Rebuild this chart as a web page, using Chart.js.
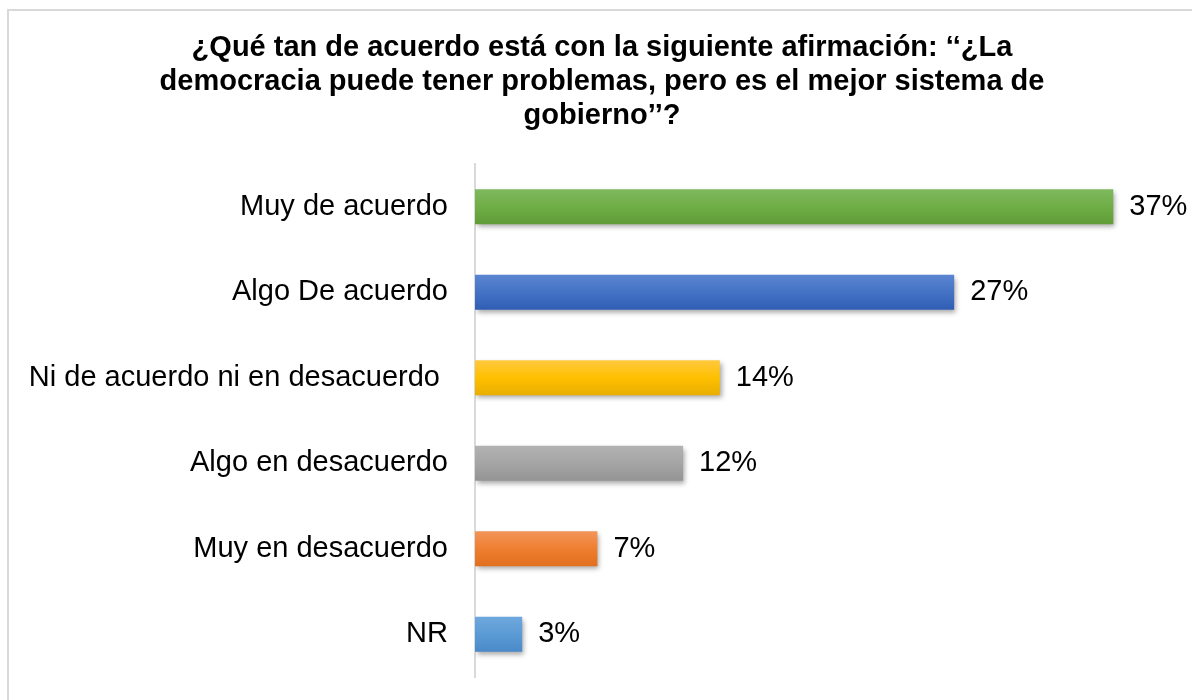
<!DOCTYPE html>
<html>
<head>
<meta charset="utf-8">
<script src="https://cdn.jsdelivr.net/npm/chart.js@4.4.1/dist/chart.umd.min.js"></script>
<style>
  html, body { margin: 0; padding: 0; background: #fff; overflow: hidden; }
  #frame { position: absolute; left: 7px; top: 9px; width: 1200px; height: 700px; border: 2px solid #d9d9d9; }
  #myBarChart { position: absolute; left: 0; top: 0; }
</style>
</head>
<body>
<div id="frame"></div>
<canvas id="myBarChart" width="1192" height="700"></canvas>
<script>
// chart values
var answers = ["Muy de acuerdo", "Algo De acuerdo", "Ni de acuerdo ni en desacuerdo ", "Algo en desacuerdo", "Muy en desacuerdo", "NR"];
var shares = [36.5, 27.4, 14.0, 11.9, 7.0, 2.7];
var titleLines = [
	"¿Qué tan de acuerdo está con la siguiente afirmación: ‘‘¿La",
	"democracia puede tener problemas, pero es el mejor sistema de",
	"gobierno’’?"
];

// bar colours (top / middle / bottom of the gradient)
var topColors = ["#80b95f", "#5c86d2", "#ffc941", "#b3b3b3", "#f3955c", "#6fa8de"];
var midColors = ["#6fae46", "#4472c4", "#ffc000", "#a5a5a5", "#ef7f30", "#5b9bd5"];
var bottomColors = ["#5f9b36", "#2f5db4", "#e8ad00", "#939393", "#e06f1e", "#4a89c8"];

var FONT = '"Liberation Sans", Arial, sans-serif';

function barFill(context) {
	var i = context.dataIndex;
	var chart = context.chart;
	if (i === undefined || !chart.chartArea || !chart.scales.y) return midColors[i || 0];
	var y = chart.scales.y.getPixelForValue(i);
	var g = chart.ctx.createLinearGradient(0, y - 18, 0, y + 18);
	g.addColorStop(0, topColors[i]);
	g.addColorStop(0.5, midColors[i]);
	g.addColorStop(1, bottomColors[i]);
	return g;
}

// soft drop shadow under the bars
var barShadow = {
	id: "barShadow",
	beforeDatasetDraw: function(chart) {
		var c = chart.ctx;
		c.save();
		c.shadowColor = "rgba(0,0,0,0.35)";
		c.shadowBlur = 5;
		c.shadowOffsetX = 2;
		c.shadowOffsetY = 3;
	},
	afterDatasetDraw: function(chart) {
		chart.ctx.restore();
	}
};

// percentage next to each bar
var valueLabels = {
	id: "valueLabels",
	afterDatasetsDraw: function(chart) {
		var c = chart.ctx;
		var bars = chart.getDatasetMeta(0).data;
		c.save();
		c.font = "29px " + FONT;
		c.fillStyle = "#000";
		c.textAlign = "left";
		c.textBaseline = "middle";
		bars.forEach(function(bar, i) {
			c.fillText(Math.round(shares[i]) + "%", bar.x + 16, bar.y);
		});
		c.restore();
	}
};

var ctx = document.getElementById("myBarChart");

var chart = new Chart(ctx, {
	type: "bar",
	data: {
		labels: answers,
		datasets: [{
			data: shares,
			backgroundColor: barFill,
			borderWidth: 0,
			categoryPercentage: 1,
			barPercentage: 0.41
		}]
	},
	options: {
		indexAxis: "y",
		responsive: false,
		animation: false,
		devicePixelRatio: 1,
		layout: { padding: { left: 12, right: 0, top: 31, bottom: 23 } },
		plugins: {
			legend: { display: false },
			tooltip: { enabled: false },
			title: {
				display: true,
				text: titleLines,
				color: "#000",
				font: { family: FONT, size: 29, weight: "bold", lineHeight: 1.1724 },
				padding: { top: 0, bottom: 31 }
			}
		},
		scales: {
			x: {
				display: false,
				min: 0,
				max: 41
			},
			y: {
				grid: { display: false, drawTicks: false },
				border: { display: true, color: "#d9d9d9", width: 2 },
				ticks: {
					color: "#000",
					padding: 27,
					font: { family: FONT, size: 29 }
				},
				afterFit: function(scale) {
					scale.width = 463;
					scale.paddingTop = 0;
					scale.paddingBottom = 0;
				}
			}
		}
	},
	plugins: [barShadow, valueLabels]
});
</script>
</body>
</html>
